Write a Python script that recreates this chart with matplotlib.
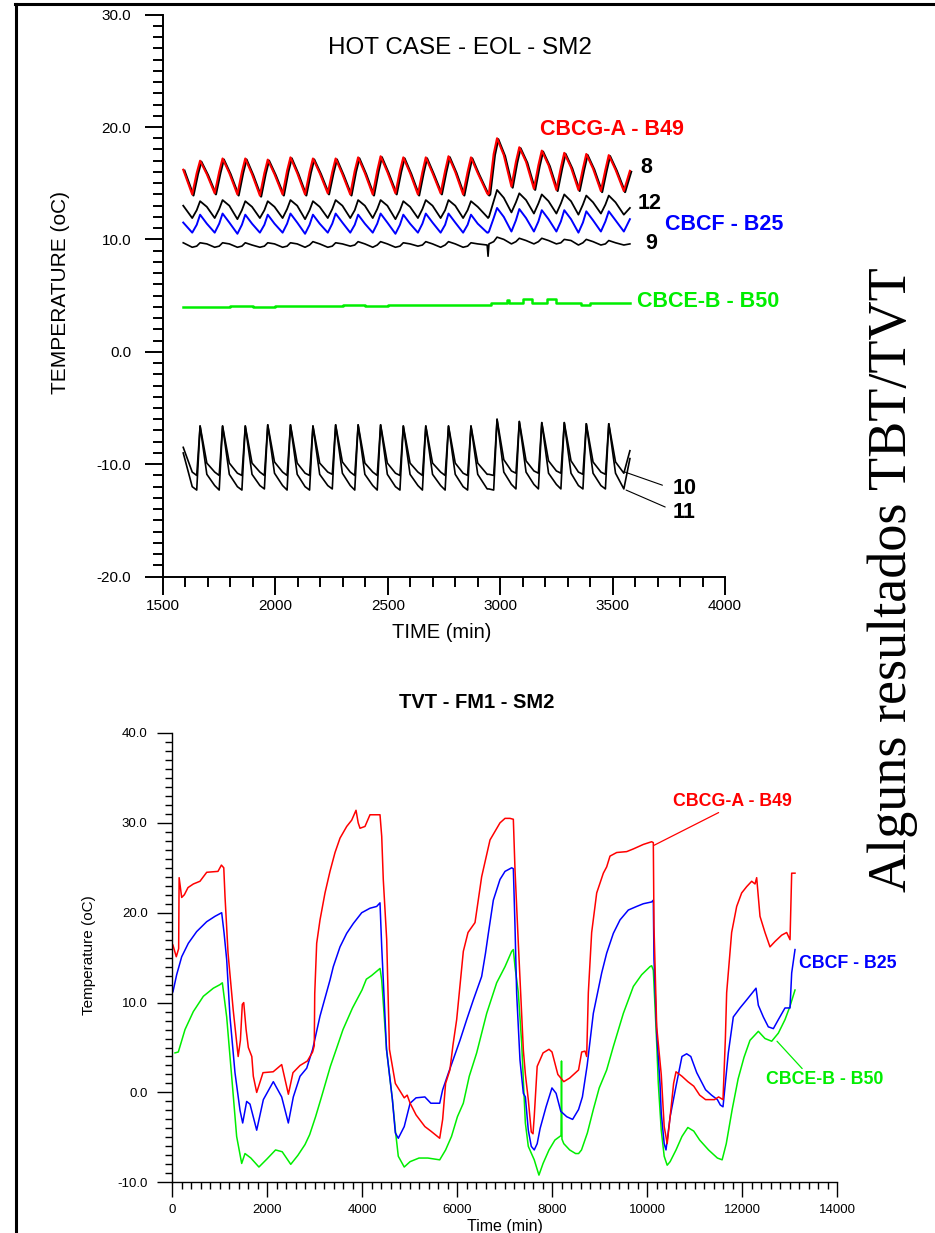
import matplotlib
matplotlib.use('Agg')
import matplotlib.pyplot as plt
import matplotlib.transforms as mtransforms
from matplotlib.lines import Line2D
from matplotlib.ticker import MultipleLocator, FormatStrFormatter

plt.rcParams['font.family'] = ['Liberation Sans', 'DejaVu Sans']

W, H = 935, 1233

# ---------------- top chart: HOT CASE - EOL - SM2 ----------------
# shared vertex times (min) for the cyclic sensor traces
t_top = [1590,
         1630, 1650, 1665, 1695,
         1730, 1750, 1765, 1795,
         1831, 1851, 1866, 1896,
         1931, 1951, 1966, 1996,
         2032, 2052, 2067, 2097,
         2132, 2152, 2167, 2197,
         2233, 2253, 2268, 2298,
         2333, 2353, 2368, 2398,
         2433, 2453, 2468, 2498,
         2534, 2554, 2569, 2599,
         2634, 2654, 2669, 2699,
         2735, 2755, 2770, 2800,
         2835, 2855, 2870, 2900,
         2942, 2946, 2950, 2971, 2986, 3016,
         3050, 3070, 3085, 3115,
         3150, 3170, 3185, 3215,
         3250, 3270, 3285, 3315,
         3348, 3368, 3383, 3413,
         3448, 3468, 3483, 3513,
         3550, 3577]

cbcg_a_top = [16.2,
              14.0, 15.9, 17.0, 15.8,
              14.1, 16.0, 17.2, 15.9,
              14.0, 16.0, 17.2, 15.8,
              13.9, 15.9, 17.1, 15.8,
              14.0, 16.1, 17.3, 15.9,
              14.0, 16.0, 17.2, 15.9,
              14.1, 16.0, 17.2, 15.8,
              14.0, 16.1, 17.3, 15.9,
              14.0, 16.1, 17.4, 16.0,
              14.1, 16.1, 17.3, 15.9,
              14.0, 16.0, 17.3, 15.9,
              14.1, 16.1, 17.4, 16.0,
              14.0, 16.0, 17.3, 15.9,
              14.1, 14.0, 14.1, 17.6, 19.0, 17.5,
              14.7, 16.9, 18.2, 16.9,
              14.5, 16.6, 17.9, 16.6,
              14.4, 16.4, 17.7, 16.4,
              14.4, 16.3, 17.6, 16.3,
              14.3, 16.2, 17.5, 16.2,
              14.3, 16.1]

# sensor 8 runs on top of CBCG-A
sensor_8 = cbcg_a_top

sensor_12 = [13.0,
             11.9, 12.6, 13.4, 12.9,
             11.9, 12.7, 13.5, 13.0,
             11.8, 12.6, 13.4, 12.9,
             11.9, 12.6, 13.4, 12.9,
             11.9, 12.7, 13.5, 13.0,
             11.8, 12.6, 13.4, 12.9,
             11.9, 12.7, 13.5, 13.0,
             11.9, 12.6, 13.5, 13.0,
             11.9, 12.7, 13.5, 13.0,
             11.8, 12.6, 13.4, 12.9,
             11.9, 12.7, 13.5, 13.0,
             11.9, 12.6, 13.5, 13.0,
             11.9, 12.6, 13.4, 12.9,
             12.0, 11.9, 12.0, 13.4, 14.4, 13.7,
             12.4, 13.3, 14.1, 13.5,
             12.3, 13.2, 14.0, 13.4,
             12.3, 13.2, 14.0, 13.4,
             12.2, 13.1, 13.9, 13.3,
             12.3, 13.1, 13.9, 13.3,
             12.2, 12.8]

cbcf_top = [11.5,
            10.6, 11.3, 12.2, 11.4,
            10.6, 11.4, 12.3, 11.5,
            10.5, 11.3, 12.2, 11.4,
            10.6, 11.3, 12.2, 11.4,
            10.6, 11.4, 12.3, 11.5,
            10.5, 11.3, 12.2, 11.4,
            10.6, 11.4, 12.3, 11.5,
            10.6, 11.3, 12.2, 11.4,
            10.6, 11.4, 12.3, 11.5,
            10.5, 11.3, 12.2, 11.4,
            10.6, 11.4, 12.3, 11.5,
            10.6, 11.3, 12.3, 11.5,
            10.6, 11.3, 12.2, 11.4,
            10.6, 10.6, 10.7, 11.9, 12.8, 12.0,
            10.7, 11.7, 12.7, 11.9,
            10.7, 11.6, 12.6, 11.8,
            10.7, 11.6, 12.6, 11.8,
            10.6, 11.5, 12.5, 11.7,
            10.7, 11.6, 12.5, 11.7,
            10.7, 11.8]

sensor_9 = [9.7,
            9.3, 9.4, 9.7, 9.6,
            9.3, 9.4, 9.7, 9.6,
            9.3, 9.4, 9.7, 9.5,
            9.3, 9.4, 9.7, 9.6,
            9.3, 9.4, 9.7, 9.6,
            9.3, 9.5, 9.8, 9.6,
            9.3, 9.4, 9.7, 9.6,
            9.4, 9.5, 9.8, 9.6,
            9.3, 9.5, 9.8, 9.6,
            9.3, 9.4, 9.7, 9.6,
            9.4, 9.5, 9.8, 9.6,
            9.3, 9.5, 9.8, 9.6,
            9.3, 9.4, 9.7, 9.6,
            9.5, 8.5, 9.6, 9.8, 10.2, 10.0,
            9.6, 9.8, 10.1, 9.9,
            9.6, 9.8, 10.1, 9.9,
            9.6, 9.7, 10.0, 9.9,
            9.5, 9.7, 10.0, 9.8,
            9.5, 9.6, 9.9, 9.7,
            9.5, 9.6]

sensor_10 = [-8.5,
             -10.7, -11.0, -6.6, -9.9,
             -10.7, -11.0, -6.6, -9.9,
             -10.8, -11.0, -6.6, -9.9,
             -10.7, -11.0, -6.5, -9.8,
             -10.7, -11.0, -6.5, -9.9,
             -10.8, -11.0, -6.6, -9.9,
             -10.7, -10.9, -6.5, -9.8,
             -10.7, -11.0, -6.5, -9.9,
             -10.7, -11.0, -6.5, -9.9,
             -10.8, -11.0, -6.6, -9.9,
             -10.7, -11.0, -6.6, -9.9,
             -10.7, -11.0, -6.6, -9.9,
             -10.8, -11.0, -6.6, -9.9,
             -10.9, -10.9, -10.9, -11.0, -6.0, -9.6,
             -10.6, -10.8, -6.2, -9.7,
             -10.6, -10.8, -6.3, -9.7,
             -10.6, -10.8, -6.3, -9.7,
             -10.7, -10.9, -6.4, -9.8,
             -10.7, -10.9, -6.4, -9.8,
             -10.8, -8.8]

sensor_11 = [-9.0,
             -12.0, -12.3, -6.6, -10.9,
             -11.9, -12.3, -6.6, -10.9,
             -12.0, -12.3, -6.6, -10.9,
             -11.9, -12.2, -6.5, -10.8,
             -11.9, -12.3, -6.5, -10.9,
             -12.0, -12.3, -6.6, -10.9,
             -11.9, -12.2, -6.5, -10.8,
             -11.9, -12.3, -6.5, -10.9,
             -11.9, -12.3, -6.5, -10.9,
             -12.0, -12.3, -6.6, -10.9,
             -11.9, -12.3, -6.6, -10.9,
             -11.9, -12.3, -6.6, -10.9,
             -12.0, -12.3, -6.6, -10.9,
             -12.2, -12.2, -12.2, -12.3, -6.0, -10.7,
             -11.8, -12.2, -6.2, -10.7,
             -11.8, -12.2, -6.3, -10.8,
             -11.8, -12.2, -6.3, -10.8,
             -11.9, -12.2, -6.4, -10.8,
             -11.9, -12.2, -6.4, -10.8,
             -12.2, -9.5]

cbce_top_t = [1590, 1700, 1800, 1900, 2000, 2100, 2200, 2300, 2400, 2500,
              2600, 2700, 2800, 2900, 2960, 3030, 3040, 3100, 3140, 3210,
              3250, 3300, 3360, 3400, 3500, 3577]
cbce_top_v = [4.0, 4.0, 4.1, 4.0, 4.1, 4.1, 4.1, 4.2, 4.1, 4.2,
              4.2, 4.2, 4.2, 4.2, 4.3, 4.6, 4.3, 4.7, 4.3, 4.7,
              4.3, 4.3, 4.2, 4.3, 4.3, 4.3]

# ---------------- bottom chart: TVT - FM1 - SM2 ----------------
cbcg_a_t = [20, 90, 140, 150, 204, 260, 337, 450, 589, 731,
            968, 1040, 1090, 1116, 1180, 1288, 1393, 1440, 1480, 1510,
            1560, 1607, 1680, 1712, 1783, 1916, 2130, 2309, 2450, 2547,
            2695, 2850, 2960, 2995, 3005, 3046, 3116, 3221, 3326, 3432,
            3537, 3678, 3783, 3874, 3920, 3958, 4063, 4168, 4379, 4415,
            4448, 4520, 4578, 4702, 4889, 4951, 5013, 5138, 5324, 5449,
            5636, 5698, 5760, 5850, 5916, 5993, 6133, 6232, 6379, 6519,
            6695, 6905, 7011, 7116, 7186, 7221, 7291, 7397, 7440, 7501,
            7564, 7600, 7626, 7688, 7812, 7937, 8000, 8123, 8248, 8372,
            8559, 8625, 8695, 8730, 8765, 8835, 8941, 9081, 9151, 9221,
            9362, 9572, 9713, 9923, 10098, 10133, 10147, 10204, 10300, 10362,
            10425, 10487, 10560, 10611, 10736, 10860, 10984, 11109, 11233, 11420,
            11507, 11600, 11650, 11677, 11782, 11888, 11993, 12098, 12204, 12274,
            12309, 12379, 12484, 12589, 12695, 12835, 12940, 13011, 13046, 13116]
cbcg_a_v = [16.4, 15.1, 16.0, 23.9, 21.7, 22.0, 22.8, 23.2, 23.5, 24.5,
            24.6, 25.3, 25.0, 21.8, 15.5, 9.2, 4.0, 5.8, 9.8, 10.0,
            7.0, 5.0, 4.0, 1.8, 0.0, 2.2, 2.3, 3.1, -0.2, 2.2,
            3.0, 3.5, 4.5, 5.2, 11.0, 16.6, 19.2, 22.2, 24.6, 26.7,
            28.3, 29.6, 30.3, 31.4, 30.0, 29.4, 29.6, 30.9, 30.9, 28.5,
            23.7, 17.0, 4.8, 1.0, -0.6, -0.3, -1.2, -2.5, -3.8, -4.3,
            -5.1, -3.0, 1.0, 2.5, 5.3, 8.1, 15.7, 17.8, 18.9, 24.0,
            28.1, 30.0, 30.5, 30.5, 30.4, 24.8, 16.6, 4.7, 2.0, -0.8,
            -4.4, -4.6, -2.7, 2.9, 4.4, 4.8, 4.5, 2.0, 1.2, 1.6,
            2.5, 4.5, 4.6, 4.0, 11.1, 17.8, 22.2, 24.4, 25.1, 26.3,
            26.7, 26.8, 27.1, 27.6, 27.9, 27.8, 18.5, 7.3, 2.0, -3.8,
            -5.7, -2.7, 1.0, 2.3, 1.8, 1.2, 0.7, -0.3, -0.8, -0.8,
            -0.5, -0.8, 6.0, 11.1, 17.8, 20.7, 22.2, 22.9, 23.5, 23.2,
            23.9, 19.6, 17.8, 16.2, 16.8, 17.5, 17.8, 17.0, 24.4, 24.4]

cbcf_t = [20, 98, 204, 344, 519, 730, 905, 1046, 1095, 1151,
          1221, 1326, 1432, 1488, 1572, 1642, 1783, 1923, 2133, 2309,
          2449, 2554, 2695, 2836, 2961, 3116, 3326, 3396, 3537, 3677,
          3817, 3994, 4168, 4309, 4379, 4415, 4448, 4516, 4640, 4702,
          4764, 4889, 5013, 5138, 5324, 5449, 5636, 5698, 5822, 6063,
          6204, 6344, 6519, 6600, 6660, 6765, 6905, 7011, 7151, 7186,
          7221, 7256, 7326, 7397, 7439, 7501, 7564, 7626, 7688, 7750,
          7875, 7999, 8086, 8185, 8310, 8434, 8559, 8640, 8740, 8870,
          9046, 9151, 9291, 9432, 9607, 9783, 9923, 10098, 10133, 10147,
          10204, 10274, 10300, 10362, 10400, 10487, 10611, 10736, 10835, 10922,
          11047, 11233, 11358, 11482, 11544, 11600, 11712, 11817, 11958, 12098,
          12204, 12295, 12344, 12449, 12554, 12660, 12765, 12905, 13011, 13046,
          13116]
cbcf_v = [11.2, 13.1, 15.1, 16.6, 17.9, 19.0, 19.6, 20.0, 17.8, 14.8,
          8.4, 2.2, -2.0, -3.4, -1.0, -1.3, -4.2, -0.8, 1.2, -0.5,
          -3.4, -0.5, 1.8, 2.7, 4.8, 8.5, 12.5, 14.0, 16.2, 17.7,
          18.8, 20.0, 20.5, 20.7, 21.1, 16.2, 12.5, 4.8, -0.8, -4.5,
          -5.1, -3.8, -1.2, -0.6, -0.5, -1.2, -1.2, 0.3, 2.2, 5.8,
          8.1, 10.3, 12.9, 15.5, 17.7, 21.4, 23.7, 24.6, 25.0, 24.9,
          18.5, 11.0, 3.6, -0.1, -0.5, -4.2, -6.0, -6.4, -5.7, -4.0,
          -1.6, 0.5, -0.1, -2.1, -2.7, -3.0, -1.9, -0.5, 3.0, 8.8,
          13.3, 15.5, 17.7, 19.2, 20.3, 20.7, 21.0, 21.2, 21.4, 14.8,
          6.6, 1.0, -2.3, -5.7, -6.4, -2.7, 0.7, 4.0, 4.3, 4.0,
          2.2, 0.3, -0.3, -0.8, -1.4, -1.6, 4.4, 8.4, 9.4, 10.3,
          11.0, 11.6, 9.7, 8.4, 7.3, 7.1, 8.1, 9.4, 9.4, 13.3,
          15.9]

cbce_t = [63, 133, 274, 449, 660, 870, 1011, 1060, 1151, 1256,
          1361, 1467, 1537, 1660, 1830, 2000, 2180, 2320, 2500, 2650,
          2800, 2898, 3023, 3147, 3334, 3458, 3600, 3800, 4000, 4091,
          4200, 4380, 4415, 4516, 4640, 4702, 4764, 4889, 5013, 5200,
          5386, 5636, 5760, 5884, 6009, 6133, 6258, 6414, 6625, 6835,
          7011, 7151, 7186, 7221, 7291, 7361, 7400, 7439, 7501, 7626,
          7725, 7812, 7937, 8061, 8190, 8200, 8210, 8248, 8372, 8497,
          8560, 8621, 8745, 8870, 8994, 9151, 9291, 9502, 9713, 9888,
          10063, 10098, 10133, 10204, 10238, 10300, 10362, 10425, 10487, 10611,
          10736, 10860, 10984, 11109, 11296, 11482, 11582, 11669, 11793, 11918,
          12042, 12168, 12344, 12484, 12625, 12765, 12905, 13011, 13116]
cbce_v = [4.4, 4.5, 7.0, 9.0, 10.7, 11.6, 12.0, 12.2, 8.4, 1.8,
          -4.9, -7.9, -6.8, -7.3, -8.3, -7.4, -6.4, -6.6, -8.0, -7.0,
          -5.8, -4.7, -2.7, -0.5, 2.9, 4.8, 7.0, 9.4, 11.4, 12.6,
          13.0, 13.8, 12.5, 4.8, -0.8, -4.2, -7.1, -8.3, -7.7, -7.3,
          -7.3, -7.5, -6.4, -4.9, -2.7, -1.2, 1.8, 4.4, 8.8, 12.2,
          14.0, 15.7, 15.9, 14.0, 11.1, 5.5, 1.0, -3.4, -6.0, -7.5,
          -9.2, -7.9, -6.4, -5.3, -4.8, 3.5, -5.2, -5.7, -6.4, -6.8,
          -6.8, -6.4, -4.5, -1.9, 0.5, 2.5, 5.1, 8.8, 11.8, 13.1,
          14.0, 14.1, 13.6, 5.5, 1.0, -4.2, -7.1, -8.1, -7.7, -6.4,
          -4.9, -3.9, -4.3, -5.3, -6.4, -7.3, -7.5, -5.7, -1.9, 1.5,
          3.9, 5.8, 6.8, 6.0, 5.7, 6.6, 8.1, 9.6, 11.4]

RED, BLUE, GREEN = '#ff0000', '#0000ff', '#00ee00'


def fx(x):
    return x / W


def fy(y):
    return 1 - y / H


def style_axis(ax, major_len, minor_len, lw, pad_y, pad_x, size):
    for s in ['top', 'right']:
        ax.spines[s].set_visible(False)
    for s in ['left', 'bottom']:
        ax.spines[s].set_linewidth(lw)
    ax.tick_params(which='major', direction='out', length=major_len, width=lw,
                   labelsize=size)
    ax.tick_params(which='minor', direction='out', length=minor_len, width=lw)
    ax.tick_params(axis='y', which='major', pad=pad_y)
    ax.tick_params(axis='x', which='major', pad=pad_x)


fig = plt.figure(figsize=(W / 100, H / 100), dpi=100)

# frame lines of the slide
fig.add_artist(Line2D([fx(15), 1], [fy(4), fy(4)], transform=fig.transFigure,
                      color='black', lw=2.2))
fig.add_artist(Line2D([fx(16), fx(16)], [0, fy(4)], transform=fig.transFigure,
                      color='black', lw=2.2))

# ---- top axes
ax1 = fig.add_axes([fx(163), fy(576.6), 562 / W, 562 / H])
ax1.set_xlim(1500, 4000)
ax1.set_ylim(-20, 30)
ax1.xaxis.set_major_locator(MultipleLocator(500))
ax1.xaxis.set_minor_locator(MultipleLocator(100))
ax1.yaxis.set_major_locator(MultipleLocator(10))
ax1.yaxis.set_minor_locator(MultipleLocator(1))
ax1.yaxis.set_major_formatter(FormatStrFormatter('%.1f'))
style_axis(ax1, 13, 7, 1.4, 10, 3, 11)

shifted = mtransforms.offset_copy(ax1.transData, fig=fig, x=1.2, y=-1.0, units='dots')
ax1.plot(t_top, sensor_8, color='black', lw=1.6, transform=shifted)
ax1.plot(t_top, cbcg_a_top, color=RED, lw=1.5)
ax1.plot(t_top, sensor_12, color='black', lw=1.3)
ax1.plot(t_top, cbcf_top, color=BLUE, lw=1.4)
ax1.plot(t_top, sensor_9, color='black', lw=1.2)
ax1.plot(cbce_top_t, cbce_top_v, color=GREEN, lw=1.8, drawstyle='steps-post')
ax1.plot(t_top, sensor_10, color='black', lw=1.2)
ax1.plot(t_top, sensor_11, color='black', lw=1.2)

lab = dict(fontsize=15.5, fontweight='bold', ha='left', va='center')
ax1.text(3177, 19.8, 'CBCG-A - B49', color=RED, **lab)
ax1.text(3622, 16.4, '8', color='black', **lab)
ax1.text(3613, 13.2, '12', color='black', **lab)
ax1.text(3733, 11.3, 'CBCF - B25', color=BLUE, **lab)
ax1.text(3644, 9.6, '9', color='black', **lab)
ax1.text(3609, 4.5, 'CBCE-B - B50', color=GREEN, **lab)
ax1.annotate('10', xy=(3555, -10.7), xytext=(3769, -12.2), color='black',
             arrowprops=dict(arrowstyle='-', color='black', lw=0.8,
                             relpos=(0, 0.5), shrinkA=6, shrinkB=0), **lab)
ax1.annotate('11', xy=(3560, -12.3), xytext=(3769, -14.3), color='black',
             arrowprops=dict(arrowstyle='-', color='black', lw=0.8,
                             relpos=(0, 0.6), shrinkA=4, shrinkB=0), **lab)

fig.text(fx(460), fy(48), 'HOT CASE - EOL - SM2', fontsize=17.5,
         ha='center', va='center')
fig.text(fx(442), fy(632), 'TIME (min)', fontsize=14.5, ha='center', va='center')
fig.text(fx(60), fy(292), 'TEMPERATURE (oC)', fontsize=15, rotation=90,
         ha='center', va='center')

# ---- bottom axes
ax2 = fig.add_axes([fx(172), fy(1182.3), 665 / W, 449.3 / H])
ax2.set_xlim(0, 14000)
ax2.set_ylim(-10, 40)
ax2.xaxis.set_major_locator(MultipleLocator(2000))
ax2.xaxis.set_minor_locator(MultipleLocator(200))
ax2.yaxis.set_major_locator(MultipleLocator(10))
ax2.yaxis.set_minor_locator(MultipleLocator(1))
ax2.yaxis.set_major_formatter(FormatStrFormatter('%.1f'))
style_axis(ax2, 10.5, 5, 1.0, 7, 5, 9.5)

ax2.plot(cbce_t, cbce_v, color=GREEN, lw=1.1)
ax2.plot(cbcf_t, cbcf_v, color=BLUE, lw=1.1)
ax2.plot(cbcg_a_t, cbcg_a_v, color=RED, lw=1.1)

lab2 = dict(fontsize=12.8, fontweight='bold', ha='left', va='center')
ax2.annotate('CBCG-A - B49', xy=(10147, 27.5), xytext=(10547, 32.4), color=RED,
             arrowprops=dict(arrowstyle='-', color=RED, lw=0.9,
                             relpos=(0.43, 0.0), shrinkA=0, shrinkB=0), **lab2)
ax2.text(13200, 14.4, 'CBCF - B25', color=BLUE, **lab2)
ax2.annotate('CBCE-B - B50', xy=(12737, 5.7), xytext=(12505, 1.4), color=GREEN,
             arrowprops=dict(arrowstyle='-', color=GREEN, lw=0.9,
                             relpos=(0.33, 1.0), shrinkA=0, shrinkB=0), **lab2)

fig.text(fx(477), fy(703), 'TVT - FM1 - SM2', fontsize=14.5, fontweight='bold',
         ha='center', va='center')
fig.text(fx(89), fy(955), 'Temperature (oC)', fontsize=11, rotation=90,
         ha='center', va='center')
fig.text(fx(505), fy(1227), 'Time (min)', fontsize=11.5, ha='center', va='center')

# slide caption
fig.text(fx(893), fy(580), 'Alguns resultados TBT/TVT', rotation=90,
         fontsize=39, family=['Liberation Serif', 'DejaVu Serif'],
         ha='center', va='center')

fig.savefig('out.png', dpi=100)
